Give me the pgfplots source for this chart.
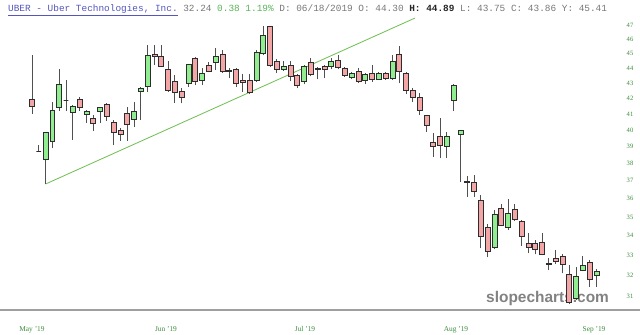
\documentclass[border=0pt]{standalone}
\usepackage{pgfplots}
\pgfplotsset{compat=1.18}
\usepackage{pgfplotstable}
\usepackage{fontspec}
\setmainfont{Liberation Serif}
\newfontfamily\monofont{Liberation Mono}
\newfontfamily\wmfont{Liberation Sans}
\definecolor{upgreen}{RGB}{144,238,144}
\definecolor{dnred}{RGB}{244,166,166}
\definecolor{outl}{RGB}{45,45,45}
\definecolor{wickc}{RGB}{80,80,80}
\definecolor{tickgreen}{RGB}{60,140,60}
\definecolor{trend}{RGB}{110,190,80}
\definecolor{titleblue}{RGB}{85,85,190}
\definecolor{hdrgray}{RGB}{120,120,120}
\definecolor{hdrgreen}{RGB}{90,180,90}
\definecolor{wmgray}{RGB}{130,130,130}
\pgfplotsset{
  candle1/.style={draw=outl, fill=upgreen, line width=0.7bp},
  candle0/.style={draw=outl, fill=dnred, line width=0.7bp},
  wick/.style={draw=wickc, line width=0.8bp},
}
\pgfplotstableread{
i O H L C
0 41.93 44.88 41.00 41.50
1 38.73 39.10 38.73 38.73
2 38.24 39.88 36.82 39.88
3 39.31 41.78 38.90 41.20
4 41.39 43.93 41.20 42.91
5 41.87 43.19 41.20 41.87
6 41.10 41.55 39.40 41.50
7 41.93 42.10 41.20 41.42
8 40.97 41.25 40.42 41.18
9 40.73 40.93 39.96 40.39
10 41.17 41.45 40.42 41.42
11 41.63 41.71 40.58 40.87
12 40.45 40.62 39.09 39.86
13 40.00 40.12 39.35 39.74
14 41.04 41.46 39.35 40.33
15 40.66 41.78 40.17 41.14
16 42.46 42.70 40.62 42.64
17 42.80 45.56 42.40 44.88
18 44.90 45.60 44.20 44.80
19 44.82 45.56 44.05 44.10
20 43.90 44.45 42.42 42.53
21 43.13 43.50 41.71 42.38
22 42.46 42.64 41.67 42.06
23 42.97 44.30 42.75 44.25
24 44.66 44.75 42.86 43.13
25 43.19 43.97 42.86 43.66
26 44.15 44.38 43.70 43.75
27 44.38 45.34 43.85 44.77
28 44.95 45.23 43.66 43.80
29 43.77 44.00 43.30 43.85
30 43.90 44.00 42.75 42.97
31 43.19 43.60 42.42 43.01
32 43.19 43.60 42.27 42.38
33 43.19 45.20 43.08 45.04
34 45.00 46.95 44.85 46.27
35 46.87 46.90 44.08 44.20
36 44.45 44.60 43.66 43.90
37 43.93 44.45 43.80 44.08
38 44.20 44.45 43.10 43.44
39 43.51 43.60 42.64 42.86
40 43.08 44.20 42.91 44.08
41 44.38 44.66 43.44 43.60
42 43.95 44.08 43.24 43.90
43 44.08 44.20 43.30 43.90
44 44.08 44.66 43.90 44.45
45 44.52 44.88 43.90 44.04
46 43.97 44.08 43.40 43.51
47 43.40 43.75 43.24 43.62
48 43.80 43.97 43.00 43.08
49 43.14 43.65 42.93 43.55
50 43.62 44.20 43.08 43.24
51 43.24 43.75 43.20 43.66
52 43.62 43.75 43.20 43.30
53 43.30 44.88 43.20 44.45
54 44.95 45.50 42.97 43.75
55 43.62 43.70 42.27 42.49
56 42.49 42.65 41.78 42.06
57 42.06 42.35 40.93 41.25
58 40.93 40.95 39.90 40.31
59 39.25 39.80 38.40 38.99
60 39.60 40.73 38.30 39.07
61 39.00 39.90 38.30 39.60
62 41.88 42.90 41.20 42.86
63 39.76 40.00 36.94 39.96
64 36.95 37.30 36.10 36.90
65 36.94 37.35 36.10 36.38
66 35.92 36.20 33.35 33.95
67 34.42 34.60 32.89 33.20
68 33.40 35.36 33.30 35.15
69 35.45 35.70 34.50 34.55
70 34.42 36.00 34.32 35.22
71 35.40 35.70 34.76 34.89
72 34.76 34.85 33.48 33.95
73 33.62 34.13 33.10 33.40
74 33.62 33.80 33.05 33.28
75 33.65 34.17 33.00 33.05
76 32.57 32.84 32.26 32.53
77 32.84 33.28 32.57 32.70
78 32.96 33.05 32.10 32.55
79 32.07 32.50 30.60 30.70
80 30.88 32.42 30.80 31.93
81 32.26 32.96 32.20 32.47
82 32.65 32.75 31.43 31.80
83 32.00 32.30 31.43 32.20
}\candles
\begin{document}
\begin{tikzpicture}
\useasboundingbox (0,0) rectangle (640bp,335bp);
\fill[white] (0,0) rectangle (640bp,335bp);
% header
\node[anchor=base west, inner sep=0pt, font=\monofont\fontsize{9.45}{11}\selectfont] at (8bp,323.5bp)
 {\textcolor{titleblue}{\underline{UBER - Uber Technologies, Inc.}} \textcolor{hdrgray}{32.24} \textcolor{hdrgreen}{0.38 1.19\%} \textcolor{hdrgray}{D: 06/18/2019 O: 44.30} \textcolor{black!85}{\bfseries H: 44.89} \textcolor{hdrgray}{L: 43.75 C: 43.86 Y: 45.41}};
% watermark
\node[anchor=base west, inner sep=0pt, text=wmgray, font=\wmfont\bfseries\fontsize{15.5}{17}\selectfont] at (486bp,33bp) {slopecharts.com};
% bottom line
\draw[gray!75, line width=1.6bp] (0,25bp) -- (640bp,25bp);
\begin{axis}[
  at={(0,25bp)}, anchor=south west,
  scale only axis, width=640bp, height=295bp,
  xmin=-4.706, xmax=89.41,
  ymode=log, ymin=30.34, ymax=47.73,
  axis line style={draw=none},
  tick style={draw=none},
  xtick={0,19.7,40.15,62.35,82.65},
  xticklabels={May '19,Jun '19,Jul '19,Aug '19,Sep '19},
  xticklabel style={anchor=center, yshift=-19.5bp, text=tickgreen, font=\fontsize{7.4}{8}\selectfont},
  ytick={31,32,33,34,35,36,37,38,39,40,41,42,43,44,45,46,47},
  yticklabels={31,32,33,34,35,36,37,38,39,40,41,42,43,44,45,46,47},
  yticklabel pos=right,
  yticklabel style={anchor=center, xshift=-10bp, text=tickgreen, font=\fontsize{6.6}{7}\selectfont},
  minor tick num=0,
  clip=true,
]
\addplot[color=trend, line width=0.8bp] coordinates {(2,36.82) (56.3,47.5)};
\pgfplotsforeachungrouped \i in {0,...,83}{%
  \pgfplotstablegetelem{\i}{O}\of\candles \let\cO\pgfplotsretval
  \pgfplotstablegetelem{\i}{H}\of\candles \let\cH\pgfplotsretval
  \pgfplotstablegetelem{\i}{L}\of\candles \let\cL\pgfplotsretval
  \pgfplotstablegetelem{\i}{C}\of\candles \let\cC\pgfplotsretval
  \pgfmathsetmacro\cLo{min(\cO,\cC)}%
  \pgfmathsetmacro\cHi{max(\cO,\cC)}%
  \pgfmathsetmacro\xl{\i-0.36}%
  \pgfmathsetmacro\xr{\i+0.36}%
  \pgfmathtruncatemacro\cUp{\cC>\cO}%
  \edef\doplot{\noexpand\addplot[wick] coordinates {(\i,\cL) (\i,\cH)};%
    \noexpand\addplot[candle\cUp] coordinates {(\xl,\cLo) (\xr,\cLo) (\xr,\cHi) (\xl,\cHi)} -- cycle;}%
  \doplot
}
\end{axis}
\end{tikzpicture}
\end{document}
